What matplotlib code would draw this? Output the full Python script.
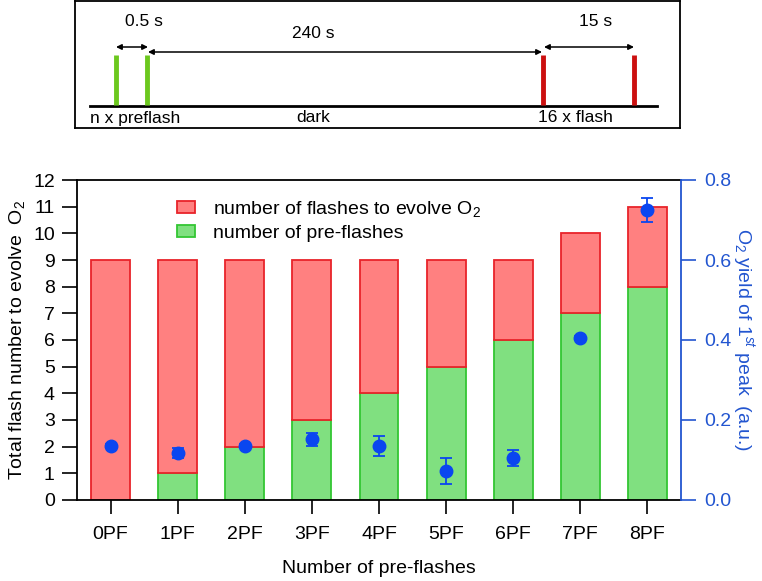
import numpy as np
import matplotlib.pyplot as plt

plt.rcParams['font.family'] = ['Liberation Sans', 'DejaVu Sans']
plt.rcParams['mathtext.fontset'] = 'custom'
plt.rcParams['mathtext.rm'] = 'Liberation Sans'
plt.rcParams['mathtext.it'] = 'Liberation Sans:italic'

# data
labels = ['0PF', '1PF', '2PF', '3PF', '4PF', '5PF', '6PF', '7PF', '8PF']
preflash = [0, 1, 2, 3, 4, 5, 6, 7, 8]
total = [9, 9, 9, 9, 9, 9, 9, 10, 11]
o2_yield = [0.135, 0.117, 0.136, 0.152, 0.135, 0.072, 0.104, 0.406, 0.725]
o2_err = [0.004, 0.012, 0.004, 0.016, 0.024, 0.033, 0.020, 0.005, 0.030]

red_fill = '#ff8080'
red_edge = '#e8232a'
green_fill = '#80e080'
green_edge = '#33c633'
blue = '#0a46f0'
axblue = '#2255d0'

W, H = 762, 581
fig = plt.figure(figsize=(W / 100, H / 100), dpi=100)

# ---- schematic of the flash protocol (pixel coords) ----
sx = fig.add_axes([75 / W, 1 - 128 / H, 605 / W, 127 / H])
sx.set_xlim(75, 680)
sx.set_ylim(128, 1)
sx.set_xticks([])
sx.set_yticks([])
for s in sx.spines.values():
    s.set_linewidth(1.3)

sx.plot([90, 657], [106, 106], color='black', lw=2)
for xx in [116, 147]:
    sx.plot([xx, xx], [55, 105], color='#6cc81e', lw=3.5, solid_capstyle='butt')
for xx in [543, 634]:
    sx.plot([xx, xx], [55, 105], color='#cc1010', lw=3.5, solid_capstyle='butt')

arr = dict(arrowstyle='<|-|>', color='black', lw=1.1, mutation_scale=8, shrinkA=0, shrinkB=0)
sx.annotate('', xy=(116, 47), xytext=(148, 47), arrowprops=arr)
sx.annotate('', xy=(148, 52), xytext=(542, 52), arrowprops=arr)
sx.annotate('', xy=(544, 47), xytext=(634, 47), arrowprops=arr)

fs = 12.5
sx.text(144, 22, '0.5 s', ha='center', va='center', fontsize=fs)
sx.text(313, 33, '240 s', ha='center', va='center', fontsize=fs)
sx.text(596, 22, '15 s', ha='center', va='center', fontsize=fs)
sx.text(90, 118, 'n x preflash', ha='left', va='center', fontsize=fs)
sx.text(313, 118, 'dark', ha='center', va='center', fontsize=fs)
sx.text(575, 118, '16 x flash', ha='center', va='center', fontsize=fs)

# ---- main bar chart ----
ax = fig.add_axes([77 / W, 1 - 500 / H, 604 / W, 320 / H])
x = np.arange(len(labels))
remain = np.array(total) - np.array(preflash)
bw = 0.58
ax.bar(x, preflash, bw, color=green_fill, edgecolor=green_edge, lw=1.3,
       label='number of pre-flashes', zorder=2)
ax.bar(x, remain, bw, bottom=preflash, color=red_fill, edgecolor=red_edge, lw=1.3,
       label='number of flashes to evolve O$_2$', zorder=2)

ax.set_xlim(-0.5, 8.5)
ax.set_ylim(0, 12)
ax.set_yticks(range(0, 13))
ax.set_xticks(x)
ax.set_xticklabels(labels)
ax.tick_params(axis='both', direction='out', labelsize=14, width=1.2)
ax.tick_params(axis='y', length=11, pad=5)
ax.tick_params(axis='x', length=10, pad=9)
ax.spines['right'].set_visible(False)
for s in ['left', 'bottom', 'top']:
    ax.spines[s].set_linewidth(1.3)
ax.set_ylabel('Total flash number to evolve  O$_2$', fontsize=14, labelpad=4)
ax.set_xlabel('Number of pre-flashes', fontsize=14, labelpad=12)

h, l = ax.get_legend_handles_labels()
ax.legend(h[::-1], l[::-1], loc='upper left', bbox_to_anchor=(0.137, 0.995),
          frameon=False, fontsize=14, handlelength=0.9, handleheight=0.6,
          handletextpad=0.95, labelspacing=0.3)

ax2 = ax.twinx()
ax2.set_ylim(0, 0.8)
ax2.set_yticks([0.0, 0.2, 0.4, 0.6, 0.8])
ax2.set_yticklabels(['0.0', '0.2', '0.4', '0.6', '0.8'])
ax2.errorbar(x, o2_yield, yerr=o2_err, fmt='o', color=blue, ecolor=blue,
             markersize=9, capsize=4.5, elinewidth=1.3, capthick=1.3, zorder=3)
for s in ['left', 'bottom', 'top']:
    ax2.spines[s].set_visible(False)
ax2.spines['right'].set_color(axblue)
ax2.spines['right'].set_linewidth(1.3)
ax2.tick_params(axis='y', colors=axblue, labelcolor=axblue, direction='out',
                length=11, width=1.2, labelsize=14, pad=6)
ax2.set_ylabel('O$_2$ yield of 1$^{st}$ peak  (a.u.)', color=axblue, fontsize=14,
               rotation=270, labelpad=18)

fig.savefig('out.png', dpi=100)
